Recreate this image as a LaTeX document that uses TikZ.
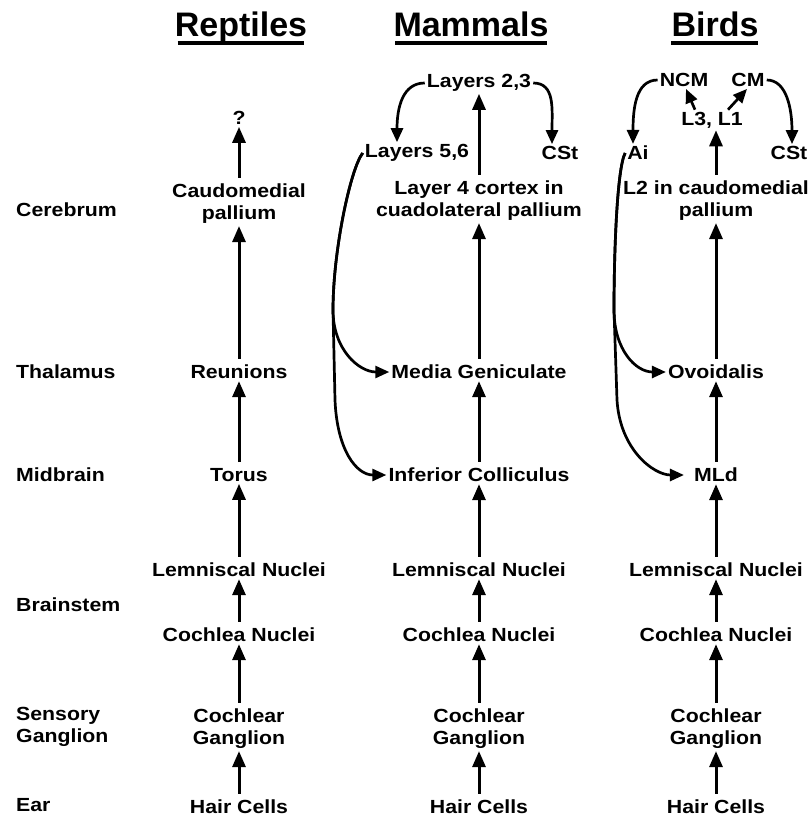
\documentclass[tikz,border=0pt]{standalone}
\usepackage{fontspec}
\setmainfont{Liberation Sans}[FakeStretch=1.12]
\newfontfamily\headfont{Liberation Sans}
\usetikzlibrary{arrows.meta}

\begin{document}
\begin{tikzpicture}[
  x=1pt, y=-1pt,
  font=\bfseries\fontsize{19}{22}\selectfont,
  lbl/.style={align=center, inner sep=2pt},
  rowlbl/.style={anchor=west, align=left, inner sep=0pt},
  heading/.style={font=\headfont\bfseries\fontsize{34}{38}\selectfont, inner sep=1pt, anchor=base},
  uline/.style={line width=3.2pt},
  arrow/.style={-{Triangle[length=16pt,width=13pt]}, line width=3pt, shorten <=4pt},
  curvearrow/.style={-{Triangle[length=14pt,width=12pt]}, line width=2.7pt}
]
\useasboundingbox (0,0) rectangle (811,820);

% headings
\node[heading] (hrep) at (241,36) {Reptiles};
\node[heading] (hmam) at (471,36) {Mammals};
\node[heading] (hbir) at (715,36) {Birds};
\draw[uline] ([xshift=4pt,yshift=-7pt]hrep.base west) -- ([xshift=-4pt,yshift=-7pt]hrep.base east);
\draw[uline] ([xshift=3pt,yshift=-7pt]hmam.base west) -- ([xshift=-3pt,yshift=-7pt]hmam.base east);
\draw[uline] ([xshift=1pt,yshift=-7pt]hbir.base west) -- ([xshift=-2pt,yshift=-7pt]hbir.base east);

% row labels
\node[rowlbl] (cere) at (16,210) {Cerebrum};
\node[rowlbl] (thal) at (16,372) {Thalamus};
\node[rowlbl] (midb) at (16,475) {Midbrain};
\node[rowlbl] (brst) at (16,605) {Brainstem};
\node[rowlbl] (sgan) at (16,727) {Sensory\\Ganglion};
\node[rowlbl] (ear) at (16,805) {Ear};

% reptiles
\node[lbl] (rq) at (239,118) {?};
\node[lbl] (rcp) at (239,204) {Caudomedial\\pallium};
\node[lbl] (rth) at (239,372) {Reunions};
\node[lbl] (rmb) at (239,475) {Torus};
\node[lbl] (rln) at (239,570) {Lemniscal Nuclei};
\node[lbl] (rcn) at (239,635) {Cochlea Nuclei};
\node[lbl] (rcg) at (239,729) {Cochlear\\Ganglion};
\node[lbl] (rhc) at (239,807) {Hair Cells};

% mammals
\node[lbl] (ml23) at (479,83) {Layers 2,3};
\node[lbl] (ml56) at (417,153) {Layers 5,6};
\node[lbl] (mcst) at (560,153) {CSt};
\node[lbl] (ml4) at (479,201) {Layer 4 cortex in\\cuadolateral pallium};
\node[lbl] (mmg) at (479,372) {Media Geniculate};
\node[lbl] (mic) at (479,475) {Inferior Colliculus};
\node[lbl] (mln) at (479,570) {Lemniscal Nuclei};
\node[lbl] (mcn) at (479,635) {Cochlea Nuclei};
\node[lbl] (mcg) at (479,729) {Cochlear\\Ganglion};
\node[lbl] (mhc) at (479,807) {Hair Cells};

% birds
\node[lbl] (bncm) at (684,80) {NCM};
\node[lbl] (bcm) at (748,80) {CM};
\node[lbl] (bl31) at (712,120) {L3, L1};
\node[lbl] (bai) at (638,153) {Ai};
\node[lbl] (bcst) at (789,153) {CSt};
\node[lbl] (bl2) at (716,201) {L2 in caudomedial\\pallium};
\node[lbl] (bov) at (716,372) {Ovoidalis};
\node[lbl] (bmld) at (716,475) {MLd};
\node[lbl] (bln) at (716,570) {Lemniscal Nuclei};
\node[lbl] (bcn) at (716,635) {Cochlea Nuclei};
\node[lbl] (bcg) at (716,729) {Cochlear\\Ganglion};
\node[lbl] (bhc) at (716,807) {Hair Cells};

% ascending arrows
\draw[arrow] (rhc) -- (rcg);
\draw[arrow] (rcg) -- (rcn);
\draw[arrow] (rcn) -- (rln);
\draw[arrow] (rln) -- (rmb);
\draw[arrow] (rmb) -- (rth);
\draw[arrow] (rth) -- (rcp);
\draw[arrow] (rcp) -- (rq);

\draw[arrow] (mhc) -- (mcg);
\draw[arrow] (mcg) -- (mcn);
\draw[arrow] (mcn) -- (mln);
\draw[arrow] (mln) -- (mic);
\draw[arrow] (mic) -- (mmg);
\draw[arrow] (mmg) -- (ml4);
\draw[arrow] (ml4) -- (ml23);

\draw[arrow] (bhc) -- (bcg);
\draw[arrow] (bcg) -- (bcn);
\draw[arrow] (bcn) -- (bln);
\draw[arrow] (bln) -- (bmld);
\draw[arrow] (bmld) -- (bov);
\draw[arrow] (bov) -- (bl2);
\draw[arrow] (bl2.north) -- (bl2.north |- bl31.south);
\draw[curvearrow] ([xshift=-17pt]bl31.north) -- ([xshift=2pt]bncm.south);
\draw[curvearrow] ([xshift=16pt]bl31.north) -- ([xshift=-1pt]bcm.south);

% cortical loops
\draw[curvearrow] (ml23.west) .. controls +(-22,0) and +(0,-35) .. ([xshift=-20pt]ml56.north);
\draw[curvearrow] (ml23.east) .. controls +(22,0) and +(0,-35) .. ([xshift=-8pt]mcst.north);
\draw[curvearrow] (bncm.west) .. controls +(-22,0) and +(0,-35) .. ([xshift=-5pt]bai.north);
\draw[curvearrow] (bcm.east) .. controls +(20,0) and +(0,-35) .. ([xshift=3pt]bcst.north);

% descending projections
\coordinate (mtrunk) at (333,310);
\coordinate (mbend) at (335,400);
\draw[curvearrow] (ml56.west) .. controls +(-12,15) and +(0,-60) .. (mtrunk)
  .. controls +(0,40) and +(-30,0) .. (mmg.west);
\draw[curvearrow] (ml56.west) .. controls +(-12,15) and +(0,-60) .. (mtrunk)
  -- (mbend) .. controls +(2,50) and +(-30,0) .. (mic.west);

\coordinate (btrunk) at (614,310);
\coordinate (bbend) at (617,400);
\draw[curvearrow] (bai.west) .. controls +(-8,15) and +(0,-60) .. (btrunk)
  .. controls +(0,40) and +(-30,0) .. (bov.west);
\draw[curvearrow] (bai.west) .. controls +(-8,15) and +(0,-60) .. (btrunk)
  -- (bbend) .. controls +(3,50) and +(-30,0) .. ([xshift=-8pt]bmld.west);

\end{tikzpicture}
\end{document}
